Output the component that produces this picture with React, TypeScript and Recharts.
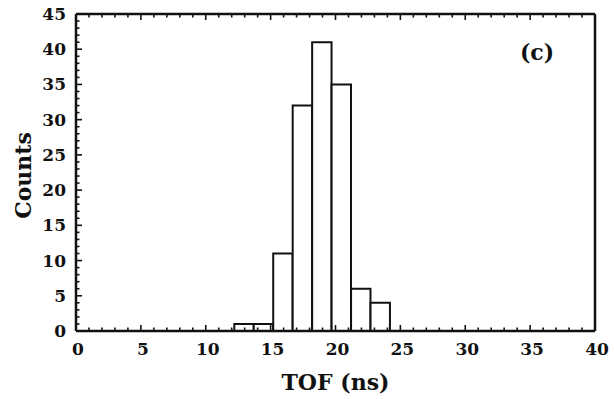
import React from "react";
import { BarChart, Bar, XAxis, YAxis, Label } from "recharts";

// TOF histogram, panel (c)
const binCenters = [12.95, 14.45, 15.95, 17.45, 18.95, 20.45, 21.95, 23.45];
const counts = [1, 1, 11, 32, 41, 35, 6, 4];

const xMinorTicks = Array.from({ length: 41 }, (_, i) => i); // every 1 ns
const yMinorTicks = Array.from({ length: 46 }, (_, i) => i); // every count
const xMajor = [0, 5, 10, 15, 20, 25, 30, 35, 40];
const yMajor = [0, 5, 10, 15, 20, 25, 30, 35, 40, 45];

const data = binCenters.map((x, i) => ({ x, counts: counts[i] }));

const FONT = "'DejaVu Serif', 'Liberation Serif', serif";
const INK = "#111";

const BottomTick = ({ x, y, payload }: any) => {
  const major = xMajor.includes(payload.value);
  return (
    <g>
      <line x1={x} x2={x} y1={y} y2={y - (major ? 6 : 3.5)} stroke={INK} strokeWidth={1.6} />
      {major && (
        <text x={x + 2} y={y + 24} textAnchor="middle" fontFamily={FONT} fontWeight="bold" fontSize={17} fill={INK}>
          {payload.value}
        </text>
      )}
    </g>
  );
};

const TopTick = ({ x, y, payload }: any) => {
  const major = xMajor.includes(payload.value);
  return <line x1={x} x2={x} y1={y} y2={y + (major ? 6 : 3.5)} stroke={INK} strokeWidth={1.6} />;
};

const LeftTick = ({ x, y, payload }: any) => {
  const major = yMajor.includes(payload.value);
  return (
    <g>
      <line x1={x} x2={x + (major ? 6 : 3.5)} y1={y} y2={y} stroke={INK} strokeWidth={1.6} />
      {major && (
        <text x={x - 10} y={y + 6} textAnchor="end" fontFamily={FONT} fontWeight="bold" fontSize={17} fill={INK}>
          {payload.value}
        </text>
      )}
    </g>
  );
};

const RightTick = ({ x, y, payload }: any) => {
  const major = yMajor.includes(payload.value);
  return <line x1={x} x2={x - (major ? 6 : 3.5)} y1={y} y2={y} stroke={INK} strokeWidth={1.6} />;
};

const frame = { stroke: INK, strokeWidth: 2.5 };

export default function App() {
  return (
    <div style={{ position: "absolute", left: 0, top: 0, width: 614, height: 399, background: "#fff" }}>
      <BarChart width={614} height={399} data={data} margin={{ top: 13, right: 18, bottom: 0, left: 0 }}>
        <XAxis
          type="number"
          dataKey="x"
          domain={[0, 40]}
          ticks={xMinorTicks}
          interval={0}
          tickSize={0}
          tickMargin={0}
          tickLine={false}
          axisLine={frame}
          tick={<BottomTick />}
          height={68}
        >
          <Label
            content={({ viewBox }: any) => (
              <text
                x={viewBox.x + viewBox.width / 2}
                y={viewBox.y + 59}
                textAnchor="middle"
                fontFamily={FONT}
                fontWeight="bold"
                fontSize={22}
                fill={INK}
              >
                TOF (ns)
              </text>
            )}
          />
        </XAxis>
        <XAxis
          xAxisId="top"
          orientation="top"
          type="number"
          dataKey="x"
          domain={[0, 40]}
          ticks={xMinorTicks}
          interval={0}
          tickSize={0}
          tickMargin={0}
          tickLine={false}
          axisLine={frame}
          tick={<TopTick />}
          height={1}
        >
          <Label
            content={({ viewBox }: any) => (
              <text
                x={viewBox.x + viewBox.width - 58}
                y={viewBox.y + 47}
                textAnchor="middle"
                fontFamily={FONT}
                fontWeight="bold"
                fontSize={22}
                fill={INK}
              >
                (c)
              </text>
            )}
          />
        </XAxis>
        <YAxis
          domain={[0, 45]}
          ticks={yMinorTicks}
          interval={0}
          tickSize={0}
          tickMargin={0}
          tickLine={false}
          axisLine={frame}
          tick={<LeftTick />}
          width={76}
        >
          <Label
            content={({ viewBox }: any) => {
              const cx = 23;
              const cy = viewBox.y + viewBox.height / 2 + 3;
              return (
                <text
                  x={cx}
                  y={cy}
                  transform={`rotate(-90 ${cx} ${cy})`}
                  textAnchor="middle"
                  dominantBaseline="central"
                  fontFamily={FONT}
                  fontWeight="bold"
                  fontSize={22}
                  fill={INK}
                >
                  Counts
                </text>
              );
            }}
          />
        </YAxis>
        <YAxis
          yAxisId="right"
          orientation="right"
          domain={[0, 45]}
          ticks={yMinorTicks}
          interval={0}
          tickSize={0}
          tickMargin={0}
          tickLine={false}
          axisLine={frame}
          tick={<RightTick />}
          width={1}
        />
        <Bar
          dataKey="counts"
          fill="#fff"
          stroke={INK}
          strokeWidth={2}
          barSize={19.4}
          isAnimationActive={false}
        />
      </BarChart>
    </div>
  );
}
